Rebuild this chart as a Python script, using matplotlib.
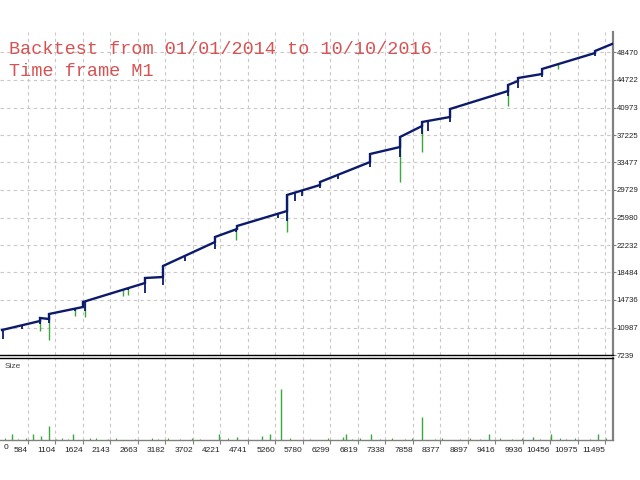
import numpy as np
import matplotlib
matplotlib.use('Agg')
import matplotlib.pyplot as plt

# balance curve, key points (bar index, balance); repeated x = step up when a trade closes
bal_x = [95, 813, 813, 983, 983, 1625, 1625, 2797, 2797, 3137, 3137, 4120, 4120,
         4536, 4536, 5481, 5481, 6105, 6105, 7050, 7050, 7617, 7617, 8033, 8033,
         8562, 8562, 9658, 9658, 9847, 9847, 10301, 10301, 11302, 11302, 11624]
bal_y = [10647, 11873, 12282, 12146, 12827, 13781, 14463, 17053, 17734, 17870, 19370,
         22641, 23322, 24413, 24822, 26866, 29047, 30410, 30819, 33545, 34635,
         35589, 36952, 38452, 38998, 39679, 40769, 43222, 44040, 44586, 44994,
         45540, 46221, 48402, 48675, 49629]

# drawdown spikes: position, lowest balance-line value, lowest equity value (None = no green)
dip_x = [113, 473, 813, 983, 1474, 1663, 2381, 2476, 2797, 3137, 3553, 4120, 4517,
         5311, 5481, 5632, 5765, 6105, 6444, 7050, 7617, 8033, 8146, 8562, 9658,
         9847, 10301, 10603, 11302]
dip_navy = [9420, 10783, 11464, 11601, 13236, 13236, 16235, 16100, 15690, 16780, 20051,
            21687, 24004, 25912, 25503, 28229, 28911, 29999, 31228, 32863, 34226,
            37362, 37771, 38998, 42541, 43631, 45131, 46700, 47993]
dip_green = [None, None, 10510, 9284, 12555, 12418, 15281, 15417, None, None, None,
             None, 22914, None, 24004, None, 29320, None, None, None, 30819,
             34908, None, None, 41178, None, None, 46221, None]

# trade size panel
size_x = [284, 680, 832, 983, 1436, 4196, 4536, 5009, 5160, 5368, 6540, 6597, 7069,
          8033, 9299, 10131, 10471, 11359]
size_v = [0.6, 0.6, 0.4, 1.4, 0.6, 0.6, 0.3, 0.4, 0.6, 5.1, 0.3, 0.6, 0.6,
          2.3, 0.6, 0.3, 0.6, 0.6]
small_x = [151, 397, 548, 1115, 1229, 1342, 1758, 1871, 2098, 2249, 2608, 2930, 3043,
           3232, 3459, 3686, 3837, 4366, 4744, 5538, 5916, 6256, 6710, 6861, 7239,
           7466, 7711, 7844, 8278, 8411, 8751, 8940, 9129, 9507, 9734, 9923, 10263,
           10641, 10754, 10924, 11208, 11510]
small_v = [0.2, 0.15, 0.2, 0.15, 0.2, 0.15, 0.2, 0.2, 0.15, 0.2, 0.15, 0.2, 0.15,
           0.2, 0.15, 0.2, 0.15, 0.2, 0.15, 0.2, 0.15, 0.2, 0.15, 0.2, 0.15,
           0.2, 0.15, 0.2, 0.15, 0.2, 0.15, 0.2, 0.15, 0.2, 0.15, 0.2, 0.15,
           0.2, 0.15, 0.2, 0.15, 0.2]

xticks = [0, 584, 1104, 1624, 2143, 2663, 3182, 3702, 4221, 4741, 5260, 5780, 6299,
          6819, 7338, 7858, 8377, 8897, 9416, 9936, 10456, 10975, 11495]
yticks = [7239, 10987, 14736, 18484, 22232, 25980, 29729, 33477, 37225, 40973, 44722, 48470]

NAVY = '#0c1a6b'
GREEN = '#3aa83a'
GRID = '#c8c8c8'
XMIN, XMAX = 57, 11642

plt.rcParams['font.family'] = ['Liberation Sans', 'DejaVu Sans']
fig = plt.figure(figsize=(6.4, 4.8), dpi=100)
ax = fig.add_axes([0, 125 / 480, 613 / 640, 323 / 480])
av = fig.add_axes([0, 40 / 480, 613 / 640, 82.5 / 480])

# main panel
for x, nlow, glow in zip(dip_x, dip_navy, dip_green):
    top = max(np.interp(x - 1, bal_x, bal_y), np.interp(x + 1, bal_x, bal_y))
    if glow is not None:
        ax.vlines(x, glow, top, color=GREEN, lw=1.0, zorder=3)
    ax.vlines(x, nlow, top, color=NAVY, lw=1.3, zorder=4)
ax.plot(bal_x, bal_y, color=NAVY, lw=1.7, zorder=5, solid_joinstyle='miter')

ax.set_xlim(XMIN, XMAX)
ax.set_ylim(7239, 7239 + 323 * 136.3)
ax.set_xticks(xticks[1:])
ax.set_yticks(yticks)
ax.tick_params(axis='x', length=0, labelbottom=False)
ax.yaxis.tick_right()
ax.tick_params(axis='y', length=2, width=0.8, color='#808080', pad=0.5,
               labelsize=5.6, labelcolor='#222222')
ax.grid(True, color=GRID, ls=(0, (3, 3)), lw=0.8)
for s in ['top', 'left']:
    ax.spines[s].set_visible(False)
ax.spines['right'].set_color('#808080')
ax.spines['right'].set_linewidth(1.6)
ax.spines['bottom'].set_color('black')
ax.spines['bottom'].set_linewidth(1.0)

fig.text(9 / 640, 1 - 49 / 480, 'Backtest from 01/01/2014 to 10/10/2016',
         family='Liberation Mono', fontsize=13.3, color='#d65353', va='center', ha='left')
fig.text(9 / 640, 1 - 71 / 480, 'Time frame M1',
         family='Liberation Mono', fontsize=13.3, color='#d65353', va='center', ha='left')

# size panel
av.vlines(small_x, 0, small_v, color=GREEN, lw=0.8)
av.vlines(size_x, 0, size_v, color=GREEN, lw=1.0)
av.set_xlim(XMIN, XMAX)
av.set_ylim(0, 8.25)
av.set_xticks(xticks[1:])
av.set_xticklabels([str(t) for t in xticks[1:]])
for lab in av.get_xticklabels():
    lab.set_ha('right')
av.tick_params(axis='x', length=3, width=0.8, color='#808080', pad=2,
               labelsize=6, labelcolor='#222222')
av.set_yticks([])
av.grid(True, axis='x', color=GRID, ls=(0, (3, 3)), lw=0.8)
av.spines['left'].set_visible(False)
av.spines['top'].set_color('black')
av.spines['top'].set_linewidth(1.0)
av.spines['right'].set_color('#808080')
av.spines['right'].set_linewidth(1.6)
av.spines['bottom'].set_color('#808080')
av.spines['bottom'].set_linewidth(1.0)
av.text(0.006, -0.045, '0', transform=av.transAxes, fontsize=6, color='#222222',
        ha='left', va='top')
av.text(0.008, 0.93, 'Size', transform=av.transAxes, fontsize=6, color='#444444',
        ha='left', va='top')

fig.savefig('out.png', dpi=100, facecolor='white')
